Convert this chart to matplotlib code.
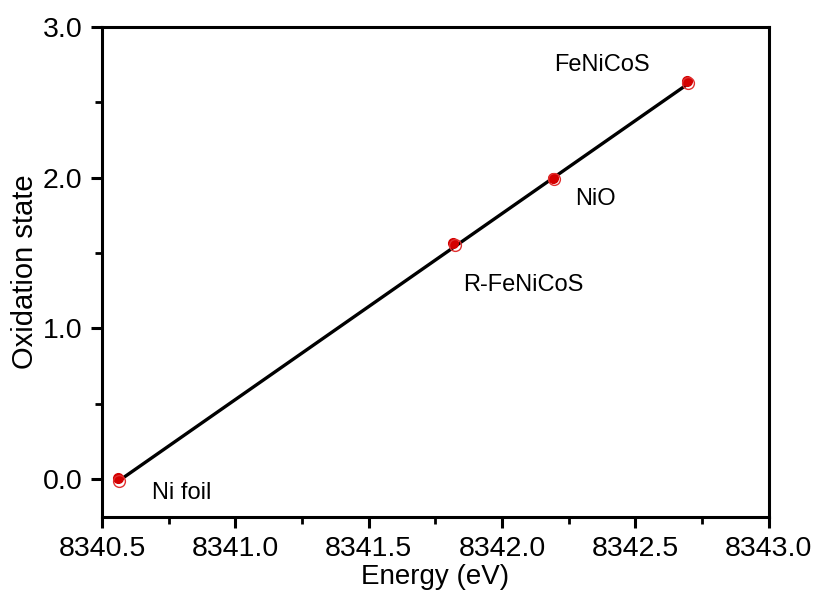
import numpy as np
import matplotlib.pyplot as plt
from matplotlib.ticker import MultipleLocator, FormatStrFormatter

plt.rcParams['font.family'] = ['Liberation Sans', 'DejaVu Sans']

# Ni K-edge energies and oxidation states
samples = ['Ni foil', 'R-FeNiCoS', 'NiO', 'FeNiCoS']
energy = [8340.56, 8341.815, 8342.193, 8342.692]
oxidation = [0.005, 1.57, 2.0, 2.64]
energy_ref = [8340.565, 8341.822, 8342.196, 8342.697]
oxidation_ref = [-0.01, 1.555, 1.99, 2.625]

# label anchors (centre of text)
label_x = [8340.80, 8342.08, 8342.35, 8342.375]
label_y = [-0.09, 1.29, 1.86, 2.75]

fig = plt.figure(figsize=(8.16, 5.99), dpi=100)
ax = fig.add_axes([0.125, 0.137, 0.817, 0.818])

# linear fit through the reference points
coef = np.polyfit(energy_ref, oxidation_ref, 1)
xs = np.array([min(energy_ref), max(energy_ref)])
ax.plot(xs, np.polyval(coef, xs), color='black', lw=2.4, zorder=2)

ax.plot(energy, oxidation, 'o', color='#d40000', ms=7, mec='#d40000', zorder=3)
ax.plot(energy_ref, oxidation_ref, 'o', mfc='none', mec='#e03030', ms=8.5, mew=1.0, zorder=4)

for name, x, y in zip(samples, label_x, label_y):
    ax.text(x, y, name, fontsize=17, ha='center', va='center')

ax.set_xlim(8340.5, 8343.0)
ax.set_ylim(-0.25, 3.0)
ax.xaxis.set_major_locator(MultipleLocator(0.5))
ax.xaxis.set_minor_locator(MultipleLocator(0.25))
ax.yaxis.set_major_locator(MultipleLocator(1.0))
ax.yaxis.set_minor_locator(MultipleLocator(0.5))
ax.xaxis.set_major_formatter(FormatStrFormatter('%.1f'))
ax.yaxis.set_major_formatter(FormatStrFormatter('%.1f'))

for s in ax.spines.values():
    s.set_linewidth(2.2)
ax.tick_params(which='major', direction='out', length=8, width=2.2, labelsize=20.5, pad=6)
ax.tick_params(which='minor', direction='out', length=5, width=2.0)
ax.tick_params(top=False, right=False, which='both')

ax.set_xlabel('Energy (eV)', fontsize=20, labelpad=1)
ax.set_ylabel('Oxidation state', fontsize=21)
ax.yaxis.set_label_coords(-0.095, 0.5)

fig.savefig('out.png', dpi=100)
